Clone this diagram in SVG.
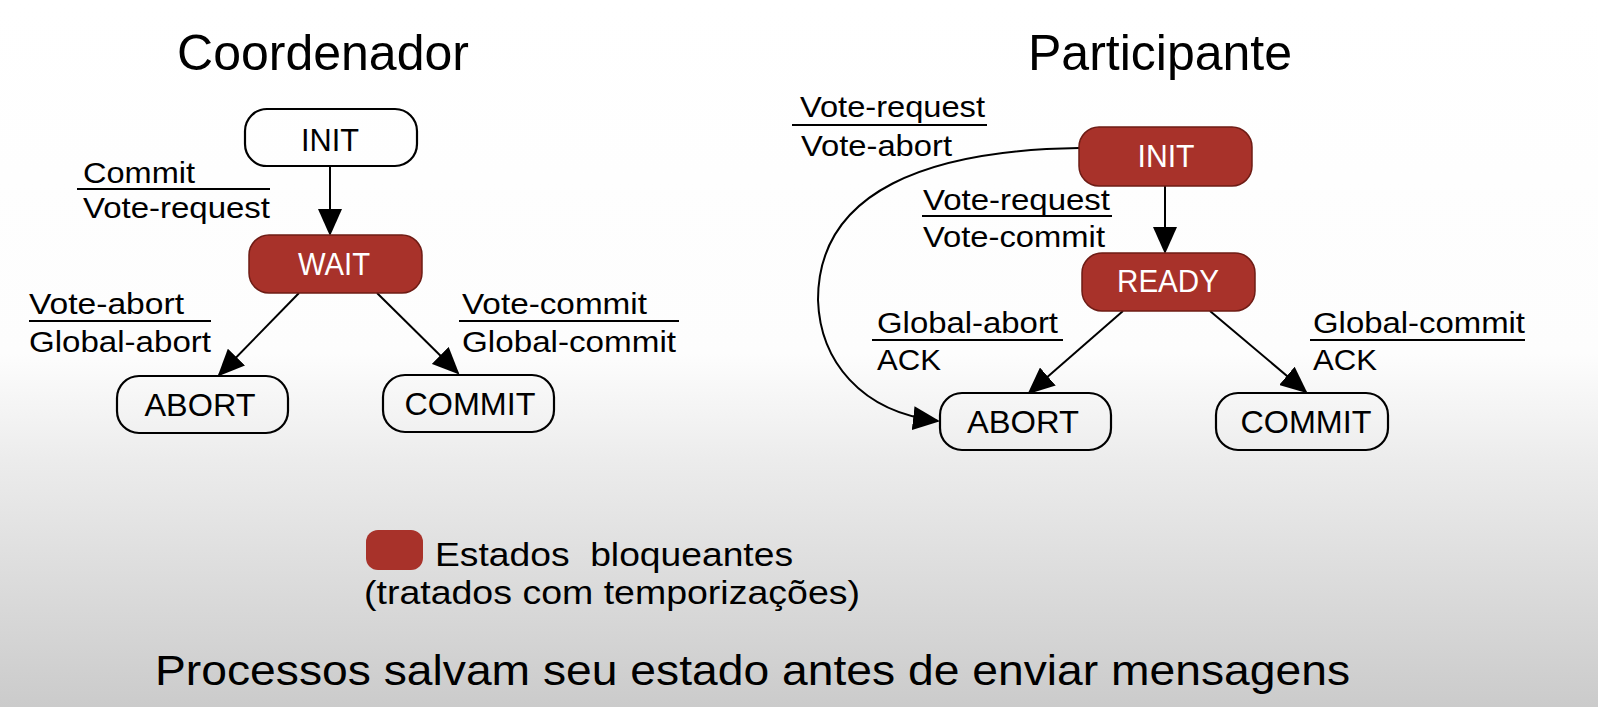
<svg xmlns="http://www.w3.org/2000/svg" width="1598" height="707" viewBox="0 0 1598 707">
  <defs>
    <linearGradient id="bg" x1="0" y1="0" x2="0" y2="1">
      <stop offset="0" stop-color="#ffffff"/>
      <stop offset="0.5" stop-color="#fdfdfd"/>
      <stop offset="0.65" stop-color="#ececec"/>
      <stop offset="1" stop-color="#cbcbcb"/>
    </linearGradient>
    <marker id="arr" viewBox="0 0 27 24" markerUnits="userSpaceOnUse" markerWidth="27" markerHeight="24" refX="25" refY="12" orient="auto">
      <path d="M0,0 L27,12 L0,24 Z" fill="#000"/>
    </marker>
  </defs>
  <style>
    text { font-family: "Liberation Sans", Arial, Helvetica, sans-serif; fill: #000; }
    .title { font-size: 50px; text-anchor: middle; }
    .lbl { font-size: 30px; }
    .st { font-size: 31px; text-anchor: middle; }
    .stw { font-size: 31px; text-anchor: middle; fill: #fff; }
    .white { fill: none; stroke: #000; stroke-width: 2.2; }
    .red { fill: #a8322a; stroke: #6e1c15; stroke-width: 1.5; }
    .bar { stroke: #000; stroke-width: 2; }
    .edge { fill: none; stroke: #000; stroke-width: 2; marker-end: url(#arr); }
    .big { font-size: 42px; }
    .leg { font-size: 34px; white-space: pre; }
  </style>
  <rect x="0" y="0" width="1598" height="707" fill="url(#bg)"/>

  <text class="title" x="323" y="70">Coordenador</text>
  <text class="title" x="1160" y="70">Participante</text>

  <g id="connectors">
    <line class="edge" x1="330" y1="167" x2="330" y2="234"/>
    <line class="edge" x1="299" y1="293" x2="219" y2="375"/>
    <line class="edge" x1="377" y1="293" x2="458" y2="373"/>
    <line class="edge" x1="1165" y1="186" x2="1165" y2="252"/>
    <line class="edge" x1="1123" y1="311" x2="1029" y2="393"/>
    <line class="edge" x1="1210" y1="311" x2="1306" y2="392"/>
    <path class="edge" d="M1079,148 C930,150 818,190 818,300 C820,360 860,412 938,421"/>
  </g>

  <g id="c-labels">
    <text class="lbl" x="83" y="183" textLength="112" lengthAdjust="spacingAndGlyphs">Commit</text>
    <line class="bar" x1="77" y1="189" x2="270" y2="189"/>
    <text class="lbl" x="83" y="218" textLength="187" lengthAdjust="spacingAndGlyphs">Vote-request</text>
    <text class="lbl" x="29" y="314" textLength="155" lengthAdjust="spacingAndGlyphs">Vote-abort</text>
    <line class="bar" x1="29" y1="321" x2="211" y2="321"/>
    <text class="lbl" x="29" y="352" textLength="182" lengthAdjust="spacingAndGlyphs">Global-abort</text>
    <text class="lbl" x="462" y="314" textLength="185" lengthAdjust="spacingAndGlyphs">Vote-commit</text>
    <line class="bar" x1="459" y1="321" x2="679" y2="321"/>
    <text class="lbl" x="462" y="352" textLength="214" lengthAdjust="spacingAndGlyphs">Global-commit</text>
  </g>

  <g id="p-labels">
    <text class="lbl" x="800" y="117" textLength="185" lengthAdjust="spacingAndGlyphs">Vote-request</text>
    <line class="bar" x1="792" y1="125" x2="987" y2="125"/>
    <text class="lbl" x="801" y="156" textLength="151" lengthAdjust="spacingAndGlyphs">Vote-abort</text>
    <text class="lbl" x="923" y="210" textLength="187" lengthAdjust="spacingAndGlyphs">Vote-request</text>
    <line class="bar" x1="922" y1="216" x2="1112" y2="216"/>
    <text class="lbl" x="923" y="247" textLength="182" lengthAdjust="spacingAndGlyphs">Vote-commit</text>
    <text class="lbl" x="877" y="333" textLength="181" lengthAdjust="spacingAndGlyphs">Global-abort</text>
    <line class="bar" x1="872" y1="340" x2="1063" y2="340"/>
    <text class="lbl" x="877" y="370" textLength="64" lengthAdjust="spacingAndGlyphs">ACK</text>
    <text class="lbl" x="1313" y="333" textLength="212" lengthAdjust="spacingAndGlyphs">Global-commit</text>
    <line class="bar" x1="1310" y1="340" x2="1525" y2="340"/>
    <text class="lbl" x="1313" y="370" textLength="64" lengthAdjust="spacingAndGlyphs">ACK</text>
  </g>

  <g id="c-init">
    <rect class="white" x="245" y="109" width="172" height="57" rx="22"/>
    <text class="st" x="330" y="151" textLength="58" lengthAdjust="spacingAndGlyphs">INIT</text>
  </g>
  <g id="c-wait">
    <rect class="red" x="249" y="235" width="173" height="58" rx="20"/>
    <text class="stw" x="334" y="275" textLength="72" lengthAdjust="spacingAndGlyphs">WAIT</text>
  </g>
  <g id="c-abort">
    <rect class="white" x="117" y="376" width="171" height="57" rx="22"/>
    <text class="st" x="200" y="416" textLength="111" lengthAdjust="spacingAndGlyphs">ABORT</text>
  </g>
  <g id="c-commit">
    <rect class="white" x="383" y="375" width="171" height="57" rx="22"/>
    <text class="st" x="470" y="415" textLength="131" lengthAdjust="spacingAndGlyphs">COMMIT</text>
  </g>

  <g id="p-init">
    <rect class="red" x="1079" y="127" width="173" height="59" rx="20"/>
    <text class="stw" x="1166" y="167" textLength="57" lengthAdjust="spacingAndGlyphs">INIT</text>
  </g>
  <g id="p-ready">
    <rect class="red" x="1082" y="253" width="173" height="58" rx="20"/>
    <text class="stw" x="1168" y="292" textLength="102" lengthAdjust="spacingAndGlyphs">READY</text>
  </g>
  <g id="p-abort">
    <rect class="white" x="940" y="393" width="171" height="57" rx="22"/>
    <text class="st" x="1023" y="433" textLength="112" lengthAdjust="spacingAndGlyphs">ABORT</text>
  </g>
  <g id="p-commit">
    <rect class="white" x="1216" y="393" width="172" height="57" rx="22"/>
    <text class="st" x="1306" y="433" textLength="131" lengthAdjust="spacingAndGlyphs">COMMIT</text>
  </g>

  <g id="legend">
    <rect x="366" y="530" width="57" height="40" rx="12" fill="#a8322a"/>
    <text class="leg" x="435" y="566" textLength="358" lengthAdjust="spacingAndGlyphs">Estados  bloqueantes</text>
    <text class="leg" x="364" y="604" textLength="496" lengthAdjust="spacingAndGlyphs">(tratados com temporizações)</text>
  </g>

  <text class="big" x="155" y="685" textLength="1195" lengthAdjust="spacingAndGlyphs">Processos salvam seu estado antes de enviar mensagens</text>
</svg>
